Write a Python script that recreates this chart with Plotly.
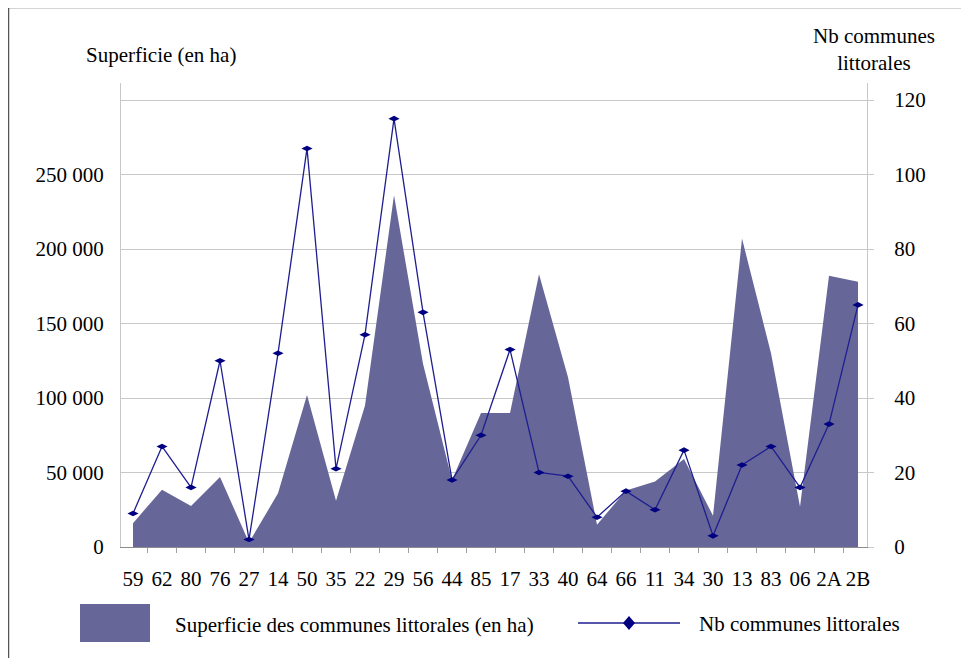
import plotly.graph_objects as go

# departements (ordre du graphique)
departements = ["59", "62", "80", "76", "27", "14", "50", "35", "22", "29", "56", "44", "85",
                "17", "33", "40", "64", "66", "11", "34", "30", "13", "83", "06", "2A", "2B"]

# superficie des communes littorales (en ha)
superficie = [16000, 38500, 27500, 47000, 3000, 36000, 102000, 31000, 95000, 236000, 123000,
              45000, 90000, 90000, 183000, 114000, 15000, 38000, 44000, 59000, 21000, 207000,
              130000, 27000, 182000, 178000]

# nombre de communes littorales
nb_communes = [9, 27, 16, 50, 2, 52, 107, 21, 57, 115, 63, 18, 30, 53, 20, 19, 8, 15, 10, 26,
               3, 22, 27, 16, 33, 65]

left_ticks = [0, 50000, 100000, 150000, 200000, 250000, 300000]
left_labels = ["0", "50 000", "100 000", "150 000", "200 000", "250 000", ""]
right_ticks = [0, 20, 40, 60, 80, 100, 120]

AREA = "#666699"
LINE = "#1e1e90"
MARK = "#000080"
GRID = "#c8c8c8"
FONT = "Liberation Serif"

# page body adds 8px around the figure
OFF = 8
W, H = 969 - 2 * OFF, 666 - 2 * OFF
# plot area in screen pixels
L, R, T, B = 121, 867, 83, 547


def px_x(p):
    return (p - L) / (R - L)


def px_y(p):
    return (B - p) / (B - T)


fig = go.Figure()

fig.add_trace(go.Scatter(
    x=departements, y=superficie, mode="lines", fill="tozeroy",
    fillcolor=AREA, line=dict(width=0, color=AREA),
    name="Superficie des communes littorales (en ha)", yaxis="y"))

fig.add_trace(go.Scatter(
    x=departements, y=nb_communes, mode="lines+markers",
    line=dict(color=LINE, width=1.3),
    marker=dict(symbol="diamond-wide", size=8, color=MARK),
    name="Nb communes littorales", yaxis="y2"))

top_val = 300000 * (B - T) / (B - 100)

fig.update_layout(
    width=W, height=H,
    margin=dict(l=L - OFF, r=W + OFF - R, t=T - OFF, b=H + OFF - B, autoexpand=False),
    paper_bgcolor="white", plot_bgcolor="white",
    showlegend=False,
    font=dict(family=FONT, size=21, color="black"),
    xaxis=dict(type="category", range=[-0.414, 25.31], tickson="boundaries",
               ticks="outside", ticklen=5, tickcolor="#a0a0a0", tickangle=0,
               showline=True, linecolor="#8c8c8c", linewidth=1,
               showgrid=False, ticklabelstandoff=13, automargin=False),
    yaxis=dict(range=[0, top_val], tickvals=left_ticks, ticktext=left_labels,
               showgrid=True, gridcolor=GRID, gridwidth=1,
               showline=True, linecolor="#c8c8c8", ticks="",
               zeroline=False, ticklabelstandoff=12, automargin=False),
    yaxis2=dict(range=[0, 120 * (B - T) / (B - 100)], tickvals=right_ticks,
                overlaying="y", side="right", showgrid=False,
                showline=True, linecolor="#c8c8c8", ticks="outside",
                ticklen=6, tickcolor="#c8c8c8", zeroline=False,
                ticklabelstandoff=16, automargin=False),
)

# axis titles
fig.add_annotation(text="Superficie (en ha)", xref="paper", yref="paper",
                   x=px_x(161), y=px_y(55), xanchor="center", yanchor="middle",
                   showarrow=False)
fig.add_annotation(text="Nb communes<br>littorales", xref="paper", yref="paper",
                   x=px_x(874), y=px_y(49), xanchor="center", yanchor="middle",
                   showarrow=False, align="center")

# custom legend
fig.add_shape(type="rect", xref="paper", yref="paper",
              x0=px_x(80), x1=px_x(150), y0=px_y(604), y1=px_y(642),
              fillcolor=AREA, line=dict(width=0))
fig.add_annotation(text="Superficie des communes littorales (en ha)", xref="paper",
                   yref="paper", x=px_x(173), y=px_y(625), xanchor="left",
                   yanchor="middle", showarrow=False)
fig.add_shape(type="line", xref="paper", yref="paper",
              x0=px_x(578), x1=px_x(680), y0=px_y(623), y1=px_y(623),
              line=dict(color=LINE, width=1.5))
cx, cy = 629, 623
path = "M {} {} L {} {} L {} {} L {} {} Z".format(
    px_x(cx - 6), px_y(cy), px_x(cx), px_y(cy - 7),
    px_x(cx + 6), px_y(cy), px_x(cx), px_y(cy + 7))
fig.add_shape(type="path", xref="paper", yref="paper", path=path,
              fillcolor=MARK, line=dict(width=0))
fig.add_annotation(text="Nb communes littorales", xref="paper", yref="paper",
                   x=px_x(697), y=px_y(624), xanchor="left", yanchor="middle",
                   showarrow=False)

# outer frame (left and top edges)
fig.add_shape(type="line", xref="paper", yref="paper",
              x0=px_x(8.5), x1=px_x(8.5), y0=px_y(7.5), y1=px_y(670),
              line=dict(color="#555555", width=1.5))
fig.add_shape(type="line", xref="paper", yref="paper",
              x0=px_x(8.5), x1=px_x(975), y0=px_y(7.5), y1=px_y(7.5),
              line=dict(color="#555555", width=1.5))

fig.write_html("out.html")
